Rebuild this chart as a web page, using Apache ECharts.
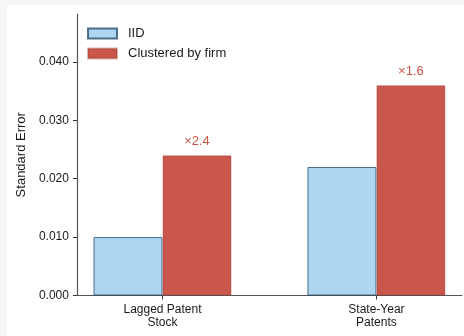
<!DOCTYPE html>
<html>
<head>
<meta charset="utf-8">
<script src="https://cdn.jsdelivr.net/npm/echarts@6/dist/echarts.min.js"></script>
<style>
  html, body { margin: 0; padding: 0; width: 464px; height: 336px; background: #f6f6f6; overflow: hidden; }
  #chart { position: absolute; left: 7px; top: 5px; width: 457px; height: 331px; background: #ffffff; }
</style>
</head>
<body>
<div id="chart"></div>
<script>
const categories = ['Lagged Patent\nStock', 'State-Year\nPatents'];
const seriesNames = ['IID', 'Clustered by firm'];
const iidValues = [0.010, 0.022];
const clusteredValues = [0.024, 0.036];
const ratioLabels = ['×2.4', '×1.6'];
const yTicks = [0, 0.010, 0.020, 0.030, 0.040];

const FONT = 'Liberation Sans, Arial, Helvetica, sans-serif';
const chart = echarts.init(document.getElementById('chart'), null, { renderer: 'canvas' });

const option = {
  animation: false,
  backgroundColor: '#ffffff',
  textStyle: { fontFamily: FONT },
  grid: { left: 68, right: 2, top: 9, bottom: 40.5, containLabel: false },
  legend: {
    left: 75, top: 17, orient: 'vertical',
    itemWidth: 29, itemHeight: 10, itemGap: 7,
    icon: 'rect',
    data: seriesNames,
    textStyle: { fontFamily: FONT, fontSize: 13, color: '#1a1a1a', padding: [0, 0, 0, 6] }
  },
  xAxis: {
    type: 'value', min: -0.4, max: 1.4,
    splitLine: { show: false },
    axisLine: { show: true, onZero: false, lineStyle: { color: '#555555', width: 1.2 } },
    axisTick: { show: true, length: 4, customValues: [0, 1], lineStyle: { color: '#333333', width: 1 } },
    axisLabel: {
      customValues: [0, 1], margin: 8,
      formatter: v => categories[Math.round(v)] || '',
      fontFamily: FONT, fontSize: 12, lineHeight: 13, color: '#1a1a1a'
    }
  },
  yAxis: {
    type: 'value', min: 0, max: 0.0482,
    name: 'Standard Error', nameLocation: 'middle', nameGap: 44, nameRotate: 90,
    nameTextStyle: { fontFamily: FONT, fontSize: 13, color: '#1a1a1a' },
    splitLine: { show: false },
    axisLine: { show: true, onZero: false, lineStyle: { color: '#555555', width: 1.2 } },
    axisTick: { show: true, length: 4, customValues: yTicks, lineStyle: { color: '#333333', width: 1 } },
    axisLabel: {
      customValues: yTicks, margin: 8,
      formatter: v => v.toFixed(3),
      fontFamily: FONT, fontSize: 12, color: '#1a1a1a'
    }
  },
  series: [
    {
      name: seriesNames[0], type: 'bar', barWidth: 69, barGap: '0%',
      data: iidValues.map((v, i) => [i, v]),
      itemStyle: { color: '#aed6f1', borderColor: 'rgba(30,70,100,0.75)', borderWidth: 1 }
    },
    {
      name: seriesNames[1], type: 'bar', barWidth: 69, barGap: '0%',
      data: clusteredValues.map((v, i) => [i, v]),
      itemStyle: { color: '#c9574b', borderColor: 'rgba(150,50,40,0.35)', borderWidth: 1 },
      label: {
        show: true, position: 'top', distance: 7,
        formatter: p => ratioLabels[p.dataIndex],
        fontFamily: FONT, fontSize: 13, color: '#cd5347'
      }
    }
  ]
};
chart.setOption(option);
</script>
</body>
</html>
